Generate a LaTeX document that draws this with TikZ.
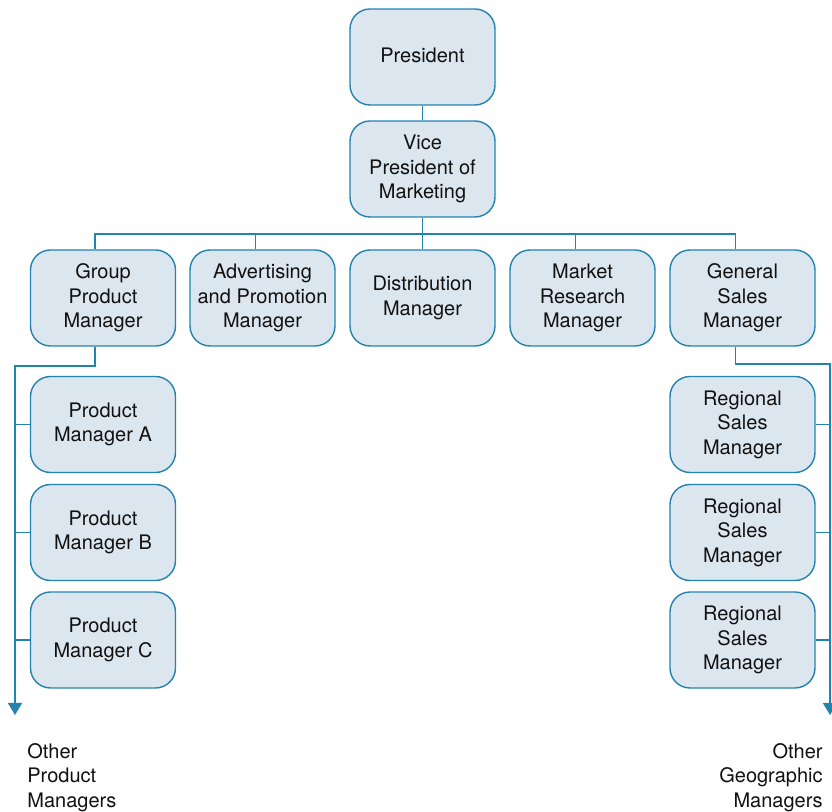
\documentclass[tikz,border=0pt]{standalone}
\usepackage{fontspec}
\setmainfont{TeX Gyre Heros}
\usepackage{xcolor}
\usepackage{tikz}
\usetikzlibrary{calc,positioning,arrows.meta}
\definecolor{boxfill}{HTML}{DCE6EE}
\definecolor{boxline}{HTML}{2383AE}
\definecolor{textmain}{HTML}{111111}

\begin{document}
\begin{tikzpicture}[
  x=0.5pt, y=-0.5pt,
  orgbox/.style={
    rectangle, rounded corners=10pt,
    minimum width=72.5pt, minimum height=48pt,
    fill=boxfill, draw=boxline, line width=0.7pt,
    align=center, inner sep=2pt,
    font=\fontsize{10}{12.25}\selectfont, text=textmain,
  },
  orgline/.style={draw=boxline, line width=0.8pt},
  orgarrow/.style={orgline, -{Triangle[width=7pt,length=6pt]}},
  othertext/.style={font=\fontsize{10}{12.25}\selectfont, text=textmain, inner sep=0pt},
]
\useasboundingbox (0,0) rectangle (832,812);

% top of the chart
\node[orgbox] (pres) at (422.5,57) {\raisebox{2.25pt}{President}};
\node[orgbox] (vp) at (422.5,169) {Vice\\President of\\Marketing};

% managers under the vice president
\node[orgbox] (gpm) at (103,298) {Group\\Product\\Manager};
\node[orgbox] (adv) at (262.5,298) {Advertising\\and Promotion\\Manager};
\node[orgbox] (dist) at (422.5,298) {Distribution\\Manager};
\node[orgbox] (mkt) at (582.5,298) {Market\\Research\\Manager};
\node[orgbox] (gsm) at (742.5,298) {General\\Sales\\Manager};

% product managers
\node[orgbox] (pma) at (103,424.5) {Product\\Manager A};
\node[orgbox] (pmb) at (103,532.5) {Product\\Manager B};
\node[orgbox] (pmc) at (103,640) {Product\\Manager C};

% regional sales managers
\node[orgbox] (rsm1) at (742.5,424.5) {Regional\\Sales\\Manager};
\node[orgbox] (rsm2) at (742.5,532.5) {Regional\\Sales\\Manager};
\node[orgbox] (rsm3) at (742.5,640) {Regional\\Sales\\Manager};

% open ends
\node[othertext, anchor=north west, align=left] (othpm) at (27,743) {Other\\Product\\Managers};
\node[othertext, anchor=north east, align=right] (othgm) at (823,743) {Other\\Geographic\\Managers};

\coordinate (bus) at (422.5,234);
\coordinate (lturn) at (15,366);
\coordinate (lend) at (15,715);
\coordinate (rturn) at (830,364);
\coordinate (rend) at (830,715);

\draw[orgline] (pres) -- (vp);
\draw[orgline] (vp) -- (bus);
\draw[orgline] ([xshift=-4pt]gpm.north) |- (bus) -| ([xshift=-3.5pt]gsm.north);
\draw[orgline] ([xshift=-3.5pt]adv.north) -- ([xshift=-3.5pt]adv.north |- bus);
\draw[orgline] (dist) -- (dist.north |- bus);
\draw[orgline] ([xshift=-3.5pt]mkt.north) -- ([xshift=-3.5pt]mkt.north |- bus);

\draw[orgarrow] ([xshift=-4pt]gpm.south) |- (lturn) -- (lend);
\foreach \n in {pma,pmb,pmc}
  \draw[orgline] (\n.west) -- (\n.west -| lturn);

\draw[orgarrow] ([xshift=-3.5pt]gsm.south) |- (rturn) -- (rend);
\foreach \n in {rsm1,rsm2,rsm3}
  \draw[orgline] (\n.east) -- (\n.east -| rturn);

\end{tikzpicture}
\end{document}
